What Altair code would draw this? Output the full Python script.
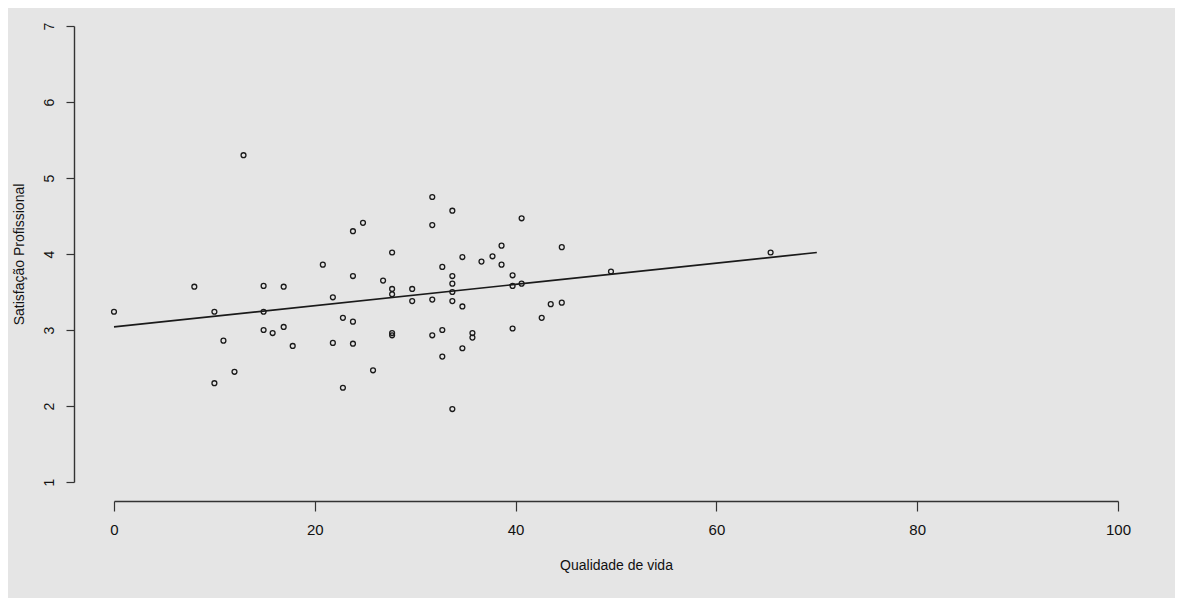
import altair as alt
import pandas as pd

# Scatter points: Qualidade de vida (x) vs Satisfação Profissional (y)
qv = [0.0, 12.9, 8.0, 10.0, 10.9, 10.0, 12.0, 14.9, 14.9, 14.9, 15.8, 16.9, 16.9, 17.8,
      20.8, 21.8, 21.8, 22.8, 22.8, 23.8, 24.8, 23.8, 23.8, 23.8, 25.8,
      26.8, 27.7, 27.7, 27.7, 27.7, 27.7, 29.7, 29.7, 31.7, 31.7, 31.7, 31.7,
      32.7, 32.7, 32.7, 33.7, 33.7, 33.7, 33.7, 33.7, 33.7, 34.7, 34.7, 34.7,
      35.7, 35.7, 36.6, 37.7, 38.6, 38.6, 39.7, 39.7, 39.7, 40.6, 40.6,
      42.6, 43.5, 44.6, 44.6, 49.5, 65.4]
sp = [3.24, 5.30, 3.57, 3.24, 2.86, 2.30, 2.45, 3.58, 3.24, 3.00, 2.96, 3.57, 3.04, 2.79,
      3.86, 3.43, 2.83, 3.16, 2.24, 4.30, 4.41, 3.71, 3.11, 2.82, 2.47,
      3.65, 4.02, 3.54, 3.47, 2.96, 2.93, 3.54, 3.38, 4.75, 4.38, 3.40, 2.93,
      3.83, 3.00, 2.65, 4.57, 3.71, 3.61, 3.50, 3.38, 1.96, 3.96, 3.31, 2.76,
      2.96, 2.90, 3.90, 3.97, 4.11, 3.86, 3.72, 3.58, 3.02, 4.47, 3.61,
      3.16, 3.34, 4.09, 3.36, 3.77, 4.02]

# Fitted regression line end points
fit_x = [0, 70]
fit_y = [3.04, 4.02]

x_ticks = [0, 20, 40, 60, 80, 100]
y_ticks = [1, 2, 3, 4, 5, 6, 7]

pts = pd.DataFrame({"qv": qv, "sp": sp})
fit = pd.DataFrame({"qv": fit_x, "sp": fit_y})

font = "Liberation Sans, Arial, sans-serif"

xscale = alt.Scale(domain=[0, 100], nice=False, zero=False)
yscale = alt.Scale(domain=[1, 7], nice=False, zero=False)

xaxis = alt.Axis(
    title="Qualidade de vida", values=x_ticks, format="d", offset=19, grid=False,
    domainColor="#333333", domainWidth=1.4, tickColor="#333333", tickWidth=1.2,
    tickSize=10, labelFont=font, labelFontSize=15, labelColor="#111111",
    labelPadding=11, titleFont=font, titleFontSize=14, titleFontWeight="normal",
    titleColor="#111111", titlePadding=21, labelFlush=False,
)
yaxis = alt.Axis(
    title="Satisfação Profissional", values=y_ticks, format="d", offset=40, grid=False,
    domainColor="#333333", domainWidth=1.4, tickColor="#333333", tickWidth=1.2,
    tickSize=8, labelFont=font, labelFontSize=14, labelColor="#111111",
    labelAngle=270, labelAlign="center", labelBaseline="bottom", labelPadding=10,
    titleFont=font, titleFontSize=14, titleFontWeight="normal",
    titleColor="#111111", titlePadding=16, labelFlush=False,
)

points = alt.Chart(pts).mark_point(
    shape="circle", filled=False, size=24, stroke="#1a1a1a", strokeWidth=1.3, opacity=1
).encode(
    x=alt.X("qv:Q", scale=xscale, axis=xaxis),
    y=alt.Y("sp:Q", scale=yscale, axis=yaxis),
)

line = alt.Chart(fit).mark_line(color="#1a1a1a", strokeWidth=1.7).encode(
    x=alt.X("qv:Q", scale=xscale),
    y=alt.Y("sp:Q", scale=yscale),
)

chart = alt.layer(points, line).properties(
    width=1004, height=456,
    autosize=alt.AutoSizeParams(type="none"),
    padding={"left": 106, "top": 18, "right": 57, "bottom": 116},
    background="#e5e5e5",
).configure_view(stroke=None)

chart.save("out.html", embed_options={"renderer": "svg", "actions": False})
